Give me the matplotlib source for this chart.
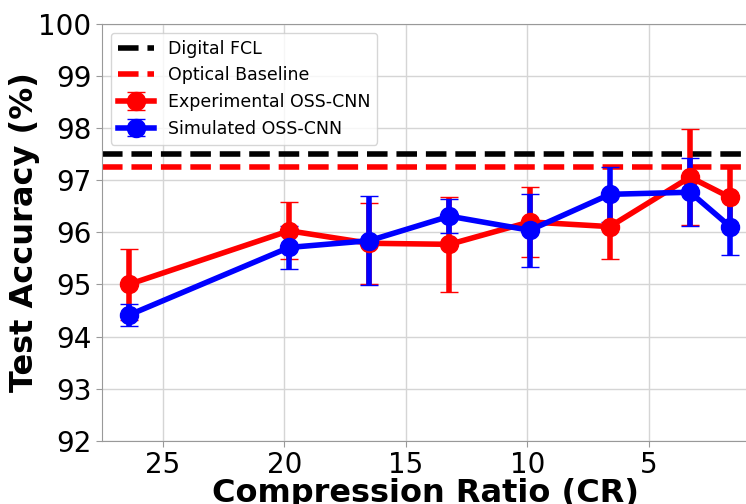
import numpy as np
import matplotlib
matplotlib.use("Agg")
import matplotlib.pyplot as plt

# Dados
cr = [26.4, 19.8, 16.5, 13.2, 9.9, 6.6, 3.3, 1.65]

exp_acc = [95.00, 96.03, 95.79, 95.77, 96.20, 96.11, 97.06, 96.67]
exp_err = [0.68, 0.55, 0.78, 0.91, 0.67, 0.62, 0.92, 0.59]

sim_acc = [94.41, 95.71, 95.84, 96.31, 96.04, 96.73, 96.77, 96.11]
sim_err = [0.21, 0.41, 0.85, 0.33, 0.70, 0.53, 0.65, 0.55]

digital_fcl = 97.5
optical_baseline = 97.25

yticks = [92, 93, 94, 95, 96, 97, 98, 99, 100]
xticks = [25, 20, 15, 10, 5]

fig = plt.figure(figsize=(7.46, 5.04), dpi=100)
ax = fig.add_axes([0.1367, 0.1256, 0.8665, 0.8268])

ax.axhline(digital_fcl, color="black", linestyle="--", linewidth=4, label="Digital FCL")
ax.axhline(optical_baseline, color="red", linestyle="--", linewidth=4, label="Optical Baseline")

ax.errorbar(cr, exp_acc, yerr=exp_err, color="red", marker="o", markersize=13,
            linewidth=4, elinewidth=4, capsize=6.5, label="Experimental OSS-CNN")
ax.errorbar(cr, sim_acc, yerr=sim_err, color="blue", marker="o", markersize=13,
            linewidth=4, elinewidth=4, capsize=6.5, label="Simulated OSS-CNN")

ax.set_xlim(27.5, 0.9)
ax.set_ylim(92, 100)
ax.set_xticks(xticks)
ax.set_yticks(yticks)
ax.tick_params(labelsize=20, color="#999999", length=4)
ax.grid(True, color="#d5d5d5", linewidth=1)
ax.set_axisbelow(True)
for s in ax.spines.values():
    s.set_color("#999999")

ax.set_xlabel("Compression Ratio (CR)", fontsize=23, fontweight="bold", labelpad=-1)
ax.set_ylabel("Test Accuracy (%)", fontsize=23, fontweight="bold", labelpad=-1)

ax.legend(loc="upper left", fontsize=12.5, handlelength=2.1)

fig.savefig("out.png", dpi=100)
